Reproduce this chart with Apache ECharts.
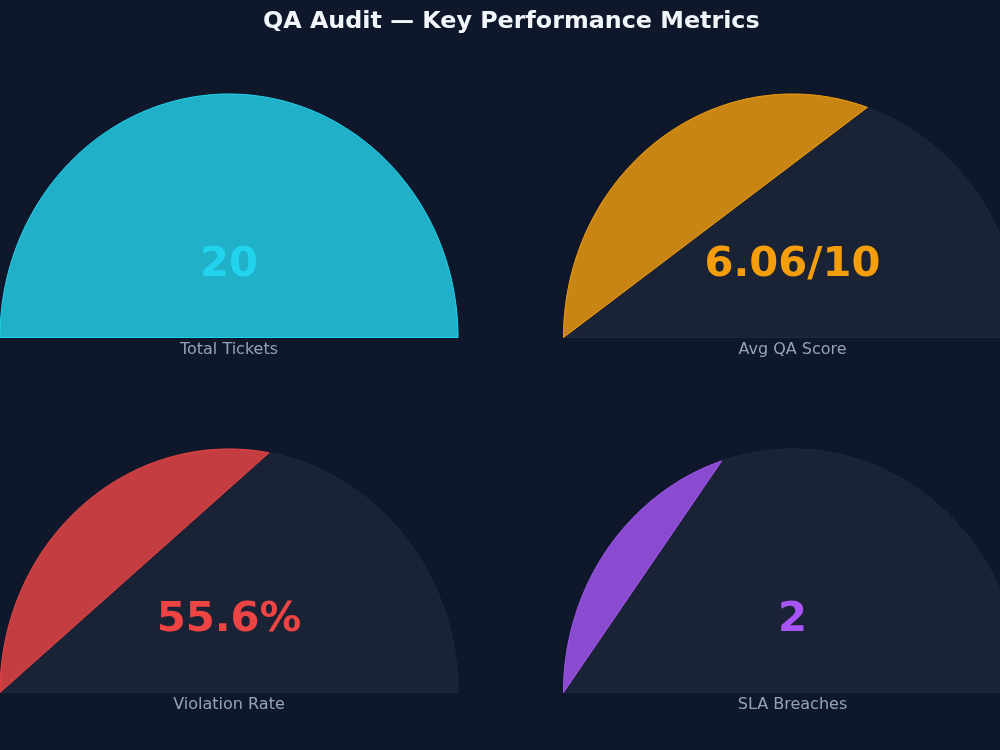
<!DOCTYPE html>
<html><head><meta charset="utf-8">
<script src="https://cdn.jsdelivr.net/npm/echarts@6/dist/echarts.min.js"></script>
<style>html,body{margin:0;padding:0;background:#0f172a;}#c{width:1000px;height:750px;}</style>
</head><body><div id="c"></div>
<script>
const metricNames = ['Total Tickets', 'Avg QA Score', 'Violation Rate', 'SLA Breaches'];
const metricValues = [20, 6.06, 55.6, 2];
const metricMax = [20, 10, 100, 5];
const valueLabels = ['20', '6.06/10', '55.6%', '2'];
const metricColors = ['#22d3ee', '#f59e0b', '#ef4444', '#a855f7'];

const chart = echarts.init(document.getElementById('c'), null, {renderer: 'canvas'});
// panel layout: left edge of semi-ellipse, top, and visible width (right column is cut by the canvas edge)
const layout = [
  {left: 0, top: 94, width: 458},
  {left: 563.5, top: 94, width: 436.5},
  {left: 0, top: 449, width: 458},
  {left: 563.5, top: 449, width: 436.5}
];
const grids = [], xAxes = [], yAxes = [], series = [];
const FONT = '"DejaVu Sans", sans-serif';

function arcPoints(api, frac) {
  const pts = [];
  const n = 200;
  for (let i = 0; i <= n; i++) {
    const th = Math.PI - Math.PI * frac * i / n;
    pts.push(api.coord([Math.cos(th), Math.sin(th)]));
  }
  return pts;
}

metricNames.forEach((name, i) => {
  const L = layout[i];
  grids.push({left: L.left, top: L.top, width: L.width, height: 243.5, containLabel: false, show: false});
  xAxes.push({type: 'value', gridIndex: i, min: -1, max: -1 + 2 * L.width / 458, show: false});
  yAxes.push({type: 'value', gridIndex: i, min: 0, max: 1, show: false});
  const frac = Math.min(metricValues[i] / metricMax[i], 1);
  series.push({
    type: 'custom',
    xAxisIndex: i, yAxisIndex: i,
    clip: false,
    silent: true,
    data: [[0, 1, 0], [0, frac, 1]],
    renderItem: function (params, api) {
      const f = api.value(1);
      const isFill = api.value(2) === 1;
      const children = [{
        type: 'polygon',
        shape: {points: arcPoints(api, f)},
        style: isFill
          ? {fill: metricColors[i], opacity: 1, fillOpacity: 0.8, stroke: metricColors[i], lineWidth: 1}
          : {fill: '#1a2335', stroke: '#1e293b', lineWidth: 1}
      }];
      if (isFill) {
        const c = api.coord([0, 0.297]);
        const b = api.coord([0, 0]);
        children.push({
          type: 'text',
          style: {x: c[0], y: c[1], text: valueLabels[i], fill: metricColors[i], font: 'bold 41.7px ' + FONT, align: 'center', verticalAlign: 'middle'},
          z2: 10
        });
        children.push({
          type: 'text',
          style: {x: b[0], y: b[1] + 12.5, text: name, fill: '#94a3b8', font: '16px ' + FONT, align: 'center', verticalAlign: 'middle'},
          z2: 10
        });
      }
      return {type: 'group', children: children};
    }
  });
});

chart.setOption({
  backgroundColor: '#0f172a',
  animation: false,
  title: {
    text: 'QA Audit — Key Performance Metrics',
    left: 258, top: 5,
    textStyle: {color: '#f1f5f9', fontSize: 23.8, fontWeight: 'bold', fontFamily: 'DejaVu Sans'}
  },
  grid: grids,
  xAxis: xAxes,
  yAxis: yAxes,
  series: series
});
</script></body></html>
